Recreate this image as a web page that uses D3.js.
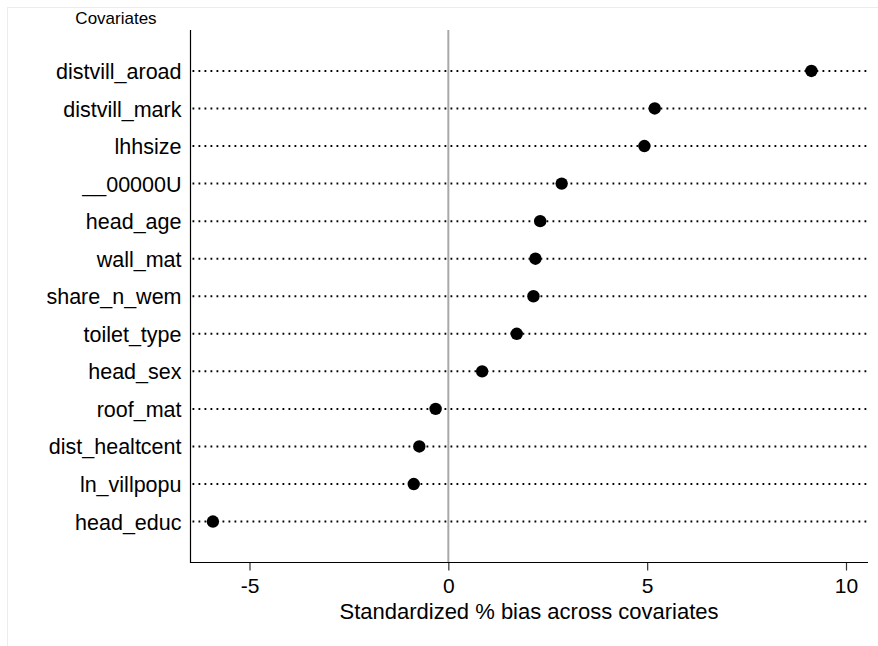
<!DOCTYPE html>
<html><head><meta charset="utf-8">
<script src="https://cdn.jsdelivr.net/npm/d3@7"></script>
<style>html,body{margin:0;padding:0;background:#fff;}svg{display:block;font-family:"Liberation Sans",Arial,sans-serif;}</style>
</head><body>
<script>
const covariates = ["distvill_aroad","distvill_mark","lhhsize","__00000U","head_age","wall_mat","share_n_wem","toilet_type","head_sex","roof_mat","dist_healtcent","ln_villpopu","head_educ"];
const bias = [9.13,5.19,4.93,2.85,2.31,2.19,2.14,1.72,0.85,-0.32,-0.73,-0.87,-5.92];
const xTicks = [-5,0,5,10];
const xTickLabels = ["-5","0","5","10"];
const xTitle = "Standardized % bias across covariates";
const yTitle = "Covariates";

(function(){
const W = 878, H = 646;
const svg = d3.select("body").append("svg").attr("width", W).attr("height", H);

// faint outer frame
svg.append("rect").attr("x",7.5).attr("y",7.5).attr("width",W).attr("height",H)
  .attr("fill","none").attr("stroke","#e6eef0").attr("stroke-width",1);

const pL = 190.5, pR = 868, pT = 30, pB = 562.5;
const x = d3.scaleLinear().domain([-5,10]).range([249.5,846]);
const y = d3.scalePoint().domain(covariates).range([pT,pB]).padding(1.09);

// dotted lines
svg.append("g").selectAll("line").data(covariates).join("line")
  .attr("x1", pL+2).attr("x2", pR)
  .attr("y1", d=>y(d)).attr("y2", d=>y(d))
  .attr("stroke","#000").attr("stroke-width",2)
  .attr("stroke-dasharray","1.8,4.2");

// zero line
svg.append("line").attr("x1",x(0)).attr("x2",x(0)).attr("y1",pT).attr("y2",pB)
  .attr("stroke","#a8a8a8").attr("stroke-width",2);

// points
svg.append("g").selectAll("circle").data(covariates).join("circle")
  .attr("cx",(d,i)=>x(bias[i])).attr("cy",d=>y(d)).attr("r",6.2).attr("fill","#000");

// y axis
const yAxis = d3.axisLeft(y).tickSize(0).tickPadding(9);
const gy = svg.append("g").attr("transform",`translate(${pL},0)`).call(yAxis);
gy.select(".domain").remove();
gy.selectAll("text").attr("font-size","21.5px").attr("fill","#000").attr("font-family","Liberation Sans, Arial, sans-serif").attr("dy","0.35em");
svg.append("line").attr("x1",pL).attr("x2",pL).attr("y1",pT).attr("y2",pB+0.5).attr("stroke","#000").attr("stroke-width",1.2);

// x axis
const xAxis = d3.axisBottom(x).tickValues(xTicks).tickSize(8).tickPadding(8)
  .tickFormat((d,i)=>xTickLabels[i]);
const gx = svg.append("g").attr("transform",`translate(0,${pB})`).call(xAxis);
gx.select(".domain").remove();
gx.selectAll(".tick line").attr("stroke","#333").attr("stroke-width",1.2);
gx.selectAll("text").attr("font-size","21px").attr("fill","#000").attr("font-family","Liberation Sans, Arial, sans-serif");
svg.append("line").attr("x1",pL).attr("x2",pR).attr("y1",pB).attr("y2",pB).attr("stroke","#000").attr("stroke-width",1.2);

// titles
svg.append("text").attr("x", 529).attr("y", 619).attr("text-anchor","middle")
  .attr("font-size","22px").attr("fill","#000").text(xTitle);
svg.append("text").attr("x", 116).attr("y", 24).attr("text-anchor","middle")
  .attr("font-size","17px").attr("fill","#000").text(yTitle);
})();
</script>
</body></html>
